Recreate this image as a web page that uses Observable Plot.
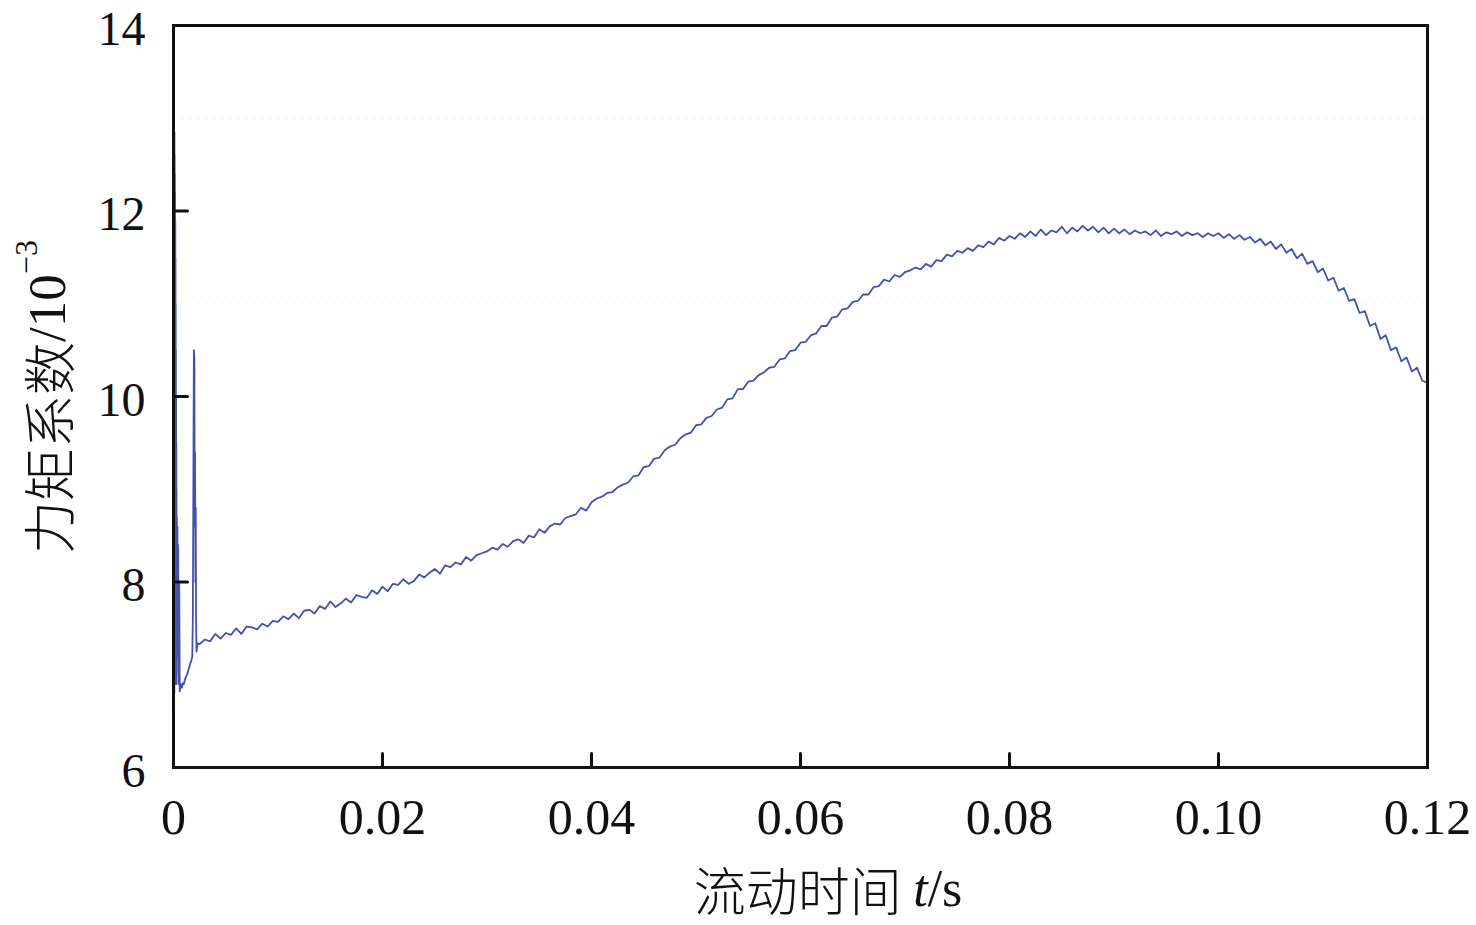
<!DOCTYPE html>
<html>
<head>
<meta charset="utf-8">
<script src="https://cdn.jsdelivr.net/npm/d3@7"></script>
<script src="https://cdn.jsdelivr.net/npm/@observablehq/plot@0.6"></script>
<style>
  html, body { margin: 0; padding: 0; background: #fff; }
  #chart svg { font-family: "Liberation Serif", "Noto Sans CJK SC", serif; }
</style>
</head>
<body>
<div id="chart"></div>
<script>
// ---- data ----
const xTicks = [0, 0.02, 0.04, 0.06, 0.08, 0.10, 0.12];
const xTickLabels = ["0", "0.02", "0.04", "0.06", "0.08", "0.10", "0.12"];
const yTicks = [6, 8, 10, 12, 14];
const yTickLabels = ["6", "8", "10", "12", "14"];

// start-up transient (s, torque coefficient ×10^-3)
const startTime = [0, 0.00001, 0.00002, 0.00003, 0.00004, 0.00005, 0.00006, 0.00007, 0.00008, 0.00009,
  0.0001, 0.00011, 0.00012, 0.00013, 0.00014, 0.00015, 0.00016, 0.00017, 0.00018, 0.00019,
  0.0002, 0.00021, 0.00022, 0.00023, 0.00024, 0.00025, 0.00026, 0.00027, 0.00028, 0.00029,
  0.0003, 0.00032, 0.00035, 0.00038, 0.0004, 0.00045, 0.0005, 0.00055, 0.0006, 0.0007,
  0.0008, 0.0009, 0.001, 0.0011, 0.0012, 0.0013, 0.0014, 0.0015, 0.0016, 0.0017,
  0.0018, 0.00185, 0.0019, 0.00195, 0.002, 0.00203, 0.00206, 0.0021, 0.00213, 0.00216,
  0.0022, 0.0023];
const startTorque = [6.0, 12.95, 6.2, 12.8, 6.4, 12.9, 6.6, 12.7, 6.8, 12.85,
  6.9, 12.6, 7.0, 12.4, 6.9, 12.2, 7.1, 11.9, 7.0, 11.5,
  6.9, 11.0, 7.0, 10.5, 6.9, 10.0, 7.0, 9.5, 6.9, 9.0,
  7.0, 8.7, 7.2, 8.6, 7.3, 8.4, 6.9, 8.0, 6.82, 6.9,
  6.86, 6.91, 6.9, 6.95, 6.98, 7.0, 7.04, 7.08, 7.12, 7.15,
  7.2, 7.6, 9.0, 10.5, 10.4, 8.6, 9.4, 8.0, 8.8, 7.6,
  7.25, 7.34];

// main development of the flow
const mainTime = [
  0.0025,0.003,0.0035,0.004,0.0045,0.005,0.0055,0.006,0.0065,0.007,0.0075,0.008,0.0085,0.009,0.0095,
  0.010,0.0105,0.011,0.0115,0.012,0.0125,0.013,0.0135,0.014,0.0145,0.015,0.0155,0.016,0.0165,0.017,0.0175,0.018,0.0185,0.019,0.0195,
  0.020,0.0205,0.021,0.0215,0.022,0.0225,0.023,0.0235,0.024,0.0245,0.025,0.0255,0.026,0.0265,0.027,0.0275,0.028,0.0285,0.029,0.0295,
  0.030,0.0305,0.031,0.0315,0.032,0.0325,0.033,0.0335,0.034,0.0345,0.035,0.0355,0.036,0.0365,0.037,0.0375,0.038,0.0385,0.039,0.0395,
  0.040,0.0405,0.041,0.0415,0.042,0.0425,0.043,0.0435,0.044,0.0445,0.045,0.0455,0.046,0.0465,0.047,0.0475,0.048,0.0485,0.049,0.0495,
  0.050,0.0505,0.051,0.0515,0.052,0.0525,0.053,0.0535,0.054,0.0545,0.055,0.0555,0.056,0.0565,0.057,0.0575,0.058,0.0585,0.059,0.0595,
  0.060,0.0605,0.061,0.0615,0.062,0.0625,0.063,0.0635,0.064,0.0645,0.065,0.0655,0.066,0.0665,0.067,0.0675,0.068,0.0685,0.069,0.0695,
  0.070,0.0705,0.071,0.0715,0.072,0.0725,0.073,0.0735,0.074,0.0745,0.075,0.0755,0.076,0.0765,0.077,0.0775,0.078,0.0785,0.079,0.0795,
  0.080,0.0805,0.081,0.0815,0.082,0.0825,0.083,0.0835,0.084,0.0845,0.085,0.0855,0.086,0.0865,0.087,0.0875,0.088,0.0885,0.089,0.0895,
  0.090,0.0905,0.091,0.0915,0.092,0.0925,0.093,0.0935,0.094,0.0945,0.095,0.0955,0.096,0.0965,0.097,0.0975,0.098,0.0985,0.099,0.0995,
  0.100,0.1005,0.101,0.1015,0.102,0.1025,0.103,0.1035,0.104,0.1045,0.105,0.1055,0.106,0.1065,0.107,0.1075,0.108,0.1085,0.109,0.1095,
  0.110,0.1105,0.111,0.1115,0.112,0.1125,0.113,0.1135,0.114,0.1145,0.115,0.1155,0.116,0.1165,0.117,0.1175,0.118,0.1185,0.119,0.1195,
  0.120];
const mainTorque = [
  7.33,7.38,7.36,7.44,7.39,7.45,7.43,7.50,7.44,7.52,7.51,7.49,7.55,7.52,7.58,
  7.57,7.63,7.60,7.66,7.61,7.69,7.70,7.66,7.74,7.71,7.79,7.73,7.77,7.82,7.78,7.86,7.84,7.83,7.91,7.87,
  7.95,7.90,7.98,7.97,8.03,7.98,8.01,8.08,8.05,8.10,8.14,8.09,8.18,8.16,8.21,8.19,8.27,8.23,8.29,8.31,
  8.33,8.37,8.35,8.41,8.38,8.44,8.46,8.42,8.50,8.48,8.57,8.53,8.60,8.63,8.62,8.69,8.71,8.73,8.80,8.77,
  8.86,8.90,8.92,8.96,8.97,9.02,9.05,9.07,9.14,9.15,9.24,9.25,9.33,9.34,9.42,9.46,9.48,9.55,9.59,9.61,
  9.69,9.70,9.77,9.79,9.86,9.88,9.97,9.98,10.08,10.08,10.16,10.17,10.23,10.26,10.31,10.32,10.40,10.41,10.49,10.50,
  10.58,10.59,10.66,10.68,10.76,10.76,10.85,10.86,10.94,10.95,11.02,11.03,11.10,11.10,11.18,11.19,11.26,11.24,11.31,11.29,
  11.34,11.36,11.39,11.37,11.43,11.40,11.47,11.46,11.53,11.51,11.57,11.55,11.60,11.57,11.63,11.61,11.67,11.64,11.71,11.68,
  11.73,11.70,11.76,11.72,11.78,11.73,11.80,11.74,11.79,11.77,11.83,11.76,11.82,11.78,11.84,11.79,11.83,11.77,11.82,11.76,
  11.81,11.76,11.80,11.75,11.79,11.76,11.78,11.74,11.79,11.73,11.77,11.75,11.78,11.73,11.77,11.74,11.76,11.72,11.76,11.73,
  11.76,11.71,11.75,11.70,11.74,11.69,11.72,11.66,11.70,11.63,11.67,11.59,11.64,11.55,11.59,11.49,11.54,11.43,11.46,11.34,
  11.38,11.25,11.28,11.14,11.17,11.03,11.05,10.90,10.92,10.76,10.79,10.62,10.66,10.50,10.53,10.38,10.42,10.27,10.31,10.17,
  10.15];

const series = startTime.map((t, i) => ({t, v: startTorque[i]}))
  .concat(mainTime.map((t, i) => ({t, v: mainTorque[i]})));

const tickShape = {
  draw(context, l) { context.moveTo(0, 0); context.lineTo(0, -l); }
};

const chart = Plot.plot({
  width: 1476,
  height: 925,
  marginLeft: 173,
  marginRight: 49,
  marginTop: 25,
  marginBottom: 158,
  style: {fontFamily: "'Liberation Serif', 'Noto Sans CJK SC', serif", background: "#fff"},
  x: {domain: [0, 0.12]},
  y: {domain: [6, 14]},
  marks: [
    Plot.ruleY([11, 13], {stroke: "#eeeeee", strokeWidth: 1.5, strokeDasharray: "2,6"}),
    Plot.line(series, {x: "t", y: "v", stroke: "#4353ab", strokeWidth: 1.8, curve: "linear"}),
    Plot.axisX({ticks: xTicks, tickSize: 0, tickPadding: 31, fontSize: 50, fill: "#111",
      tickFormat: (d) => xTickLabels[xTicks.findIndex(v => Math.abs(v - d) < 1e-9)], label: null}),
    Plot.axisY({ticks: yTicks, tickSize: 0, tickPadding: 28, fontSize: 48, fill: "#111", dy: 4,
      tickFormat: (d) => yTickLabels[yTicks.indexOf(d)], label: null}),
    Plot.vector(xTicks, {x: d => d, y: 6, length: 14, rotate: 0, anchor: "start", shape: tickShape,
      stroke: "#111", strokeWidth: 3}),
    Plot.vector(yTicks, {x: 0, y: d => d, length: 14, rotate: 90, anchor: "start", shape: tickShape,
      stroke: "#111", strokeWidth: 3}),
    Plot.frame({stroke: "#111", strokeWidth: 3})
  ]
});

const svg = d3.select(chart);
// y-axis label
const yl = svg.append("text")
  .attr("transform", "translate(47,397) rotate(-90)")
  .attr("text-anchor", "middle")
  .attr("dominant-baseline", "central")
  .attr("font-size", 53)
  .attr("fill", "#111");
yl.append("tspan").attr("font-family", "'Noto Sans CJK SC'").attr("font-weight", 300).text("力矩系数");
yl.append("tspan").attr("font-family", "'Liberation Serif'").text("/10");
yl.append("tspan").attr("font-family", "'Liberation Serif'").attr("font-size", 32).attr("dy", -21).text("−3");

// x-axis label
const xl = svg.append("text")
  .attr("x", 828).attr("y", 888)
  .attr("text-anchor", "middle")
  .attr("dominant-baseline", "central")
  .attr("font-size", 52)
  .attr("fill", "#111");
xl.append("tspan").attr("font-family", "'Noto Sans CJK SC'").attr("font-weight", 300).text("流动时间 ");
xl.append("tspan").attr("font-family", "'Liberation Serif'").attr("font-style", "italic").text("t");
xl.append("tspan").attr("font-family", "'Liberation Serif'").text("/s");

document.getElementById("chart").appendChild(chart);
</script>
</body>
</html>
